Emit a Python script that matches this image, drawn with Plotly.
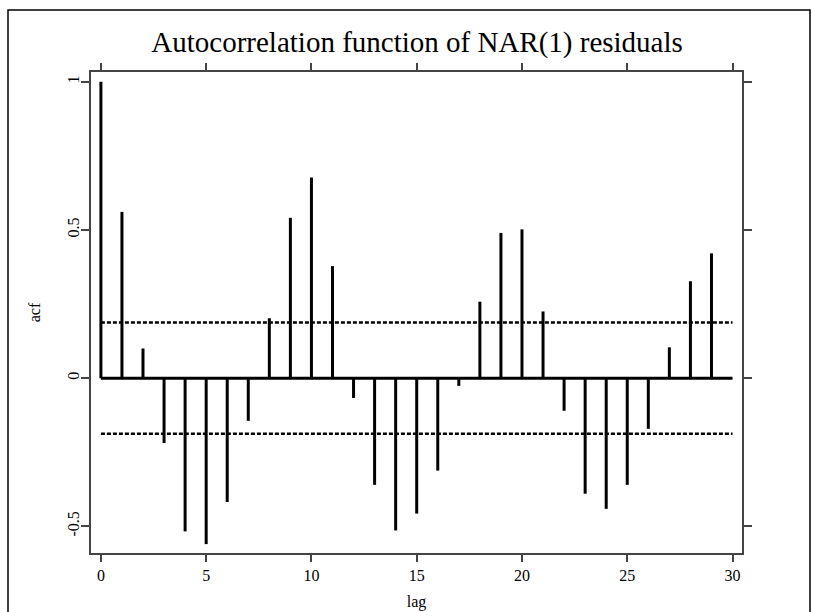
import plotly.graph_objects as go

lags = list(range(0, 30))
acf = [1.0, 0.561, 0.10, -0.219, -0.517, -0.560, -0.418, -0.144, 0.202, 0.541,
       0.677, 0.378, -0.067, -0.360, -0.514, -0.457, -0.312, -0.026, 0.258, 0.490,
       0.502, 0.225, -0.110, -0.390, -0.441, -0.360, -0.171, 0.104, 0.327, 0.421]
conf = 0.188
x_ticks = [0, 5, 10, 15, 20, 25, 30]
y_ticks = [-0.5, 0, 0.5, 1]
y_tick_text = ["-0.5", "0", "0.5", "1"]

xs, ys = [], []
for l, v in zip(lags, acf):
    xs += [l, l, None]
    ys += [0, v, None]

fig = go.Figure()
fig.add_trace(go.Scatter(x=xs, y=ys, mode="lines",
                         line=dict(color="black", width=3), hoverinfo="skip"))
fig.add_trace(go.Scatter(x=[0, 30], y=[0, 0], mode="lines",
                         line=dict(color="black", width=3), hoverinfo="skip"))
for c in (conf, -conf):
    fig.add_trace(go.Scatter(x=[0, 30], y=[c, c], mode="lines",
                             line=dict(color="black", width=2.5, dash="4px,2px"),
                             hoverinfo="skip"))

font = "Liberation Serif, Times New Roman, serif"
fig.update_layout(
    width=813, height=612,
    margin=dict(l=91, r=71, t=72, b=59, autoexpand=False),
    paper_bgcolor="white", plot_bgcolor="white",
    showlegend=False,
    font=dict(family=font, color="black", size=16),
    title=dict(text="Autocorrelation function of NAR(1) residuals",
               x=0.513, xanchor="center", y=0.931, yanchor="middle",
               font=dict(family=font, size=29, color="black")),
    xaxis=dict(range=[-0.47, 30.45], tickvals=x_ticks, ticks="outside", ticklen=7,
               tickwidth=1.5, tickcolor="#444", showline=True, linecolor="#444",
               linewidth=2, mirror="allticks", showgrid=False, zeroline=False,
               automargin=False,
               title=dict(text="lag", standoff=13, font=dict(size=16)),
               tickfont=dict(size=16)),
    yaxis=dict(range=[-0.590, 1.033], tickvals=y_ticks, ticktext=y_tick_text,
               tickangle=-90, ticks="outside", ticklen=8, tickwidth=1.5,
               tickcolor="#444", showline=True, linecolor="#444", linewidth=2,
               mirror="allticks", showgrid=False, zeroline=False,
               automargin=False, ticklabelstandoff=-4,
               title=dict(text="acf", standoff=20, font=dict(size=16)),
               tickfont=dict(size=16)),
    shapes=[dict(type="rect", xref="paper", yref="paper",
                 x0=(8 - 91) / 651, x1=(810 - 91) / 651,
                 y0=(612 - 59 - 640) / 482, y1=(612 - 59 - 10) / 481,
                 line=dict(color="black", width=1.5), fillcolor="rgba(0,0,0,0)",
                 layer="below")],
)

fig.write_html("out.html")
